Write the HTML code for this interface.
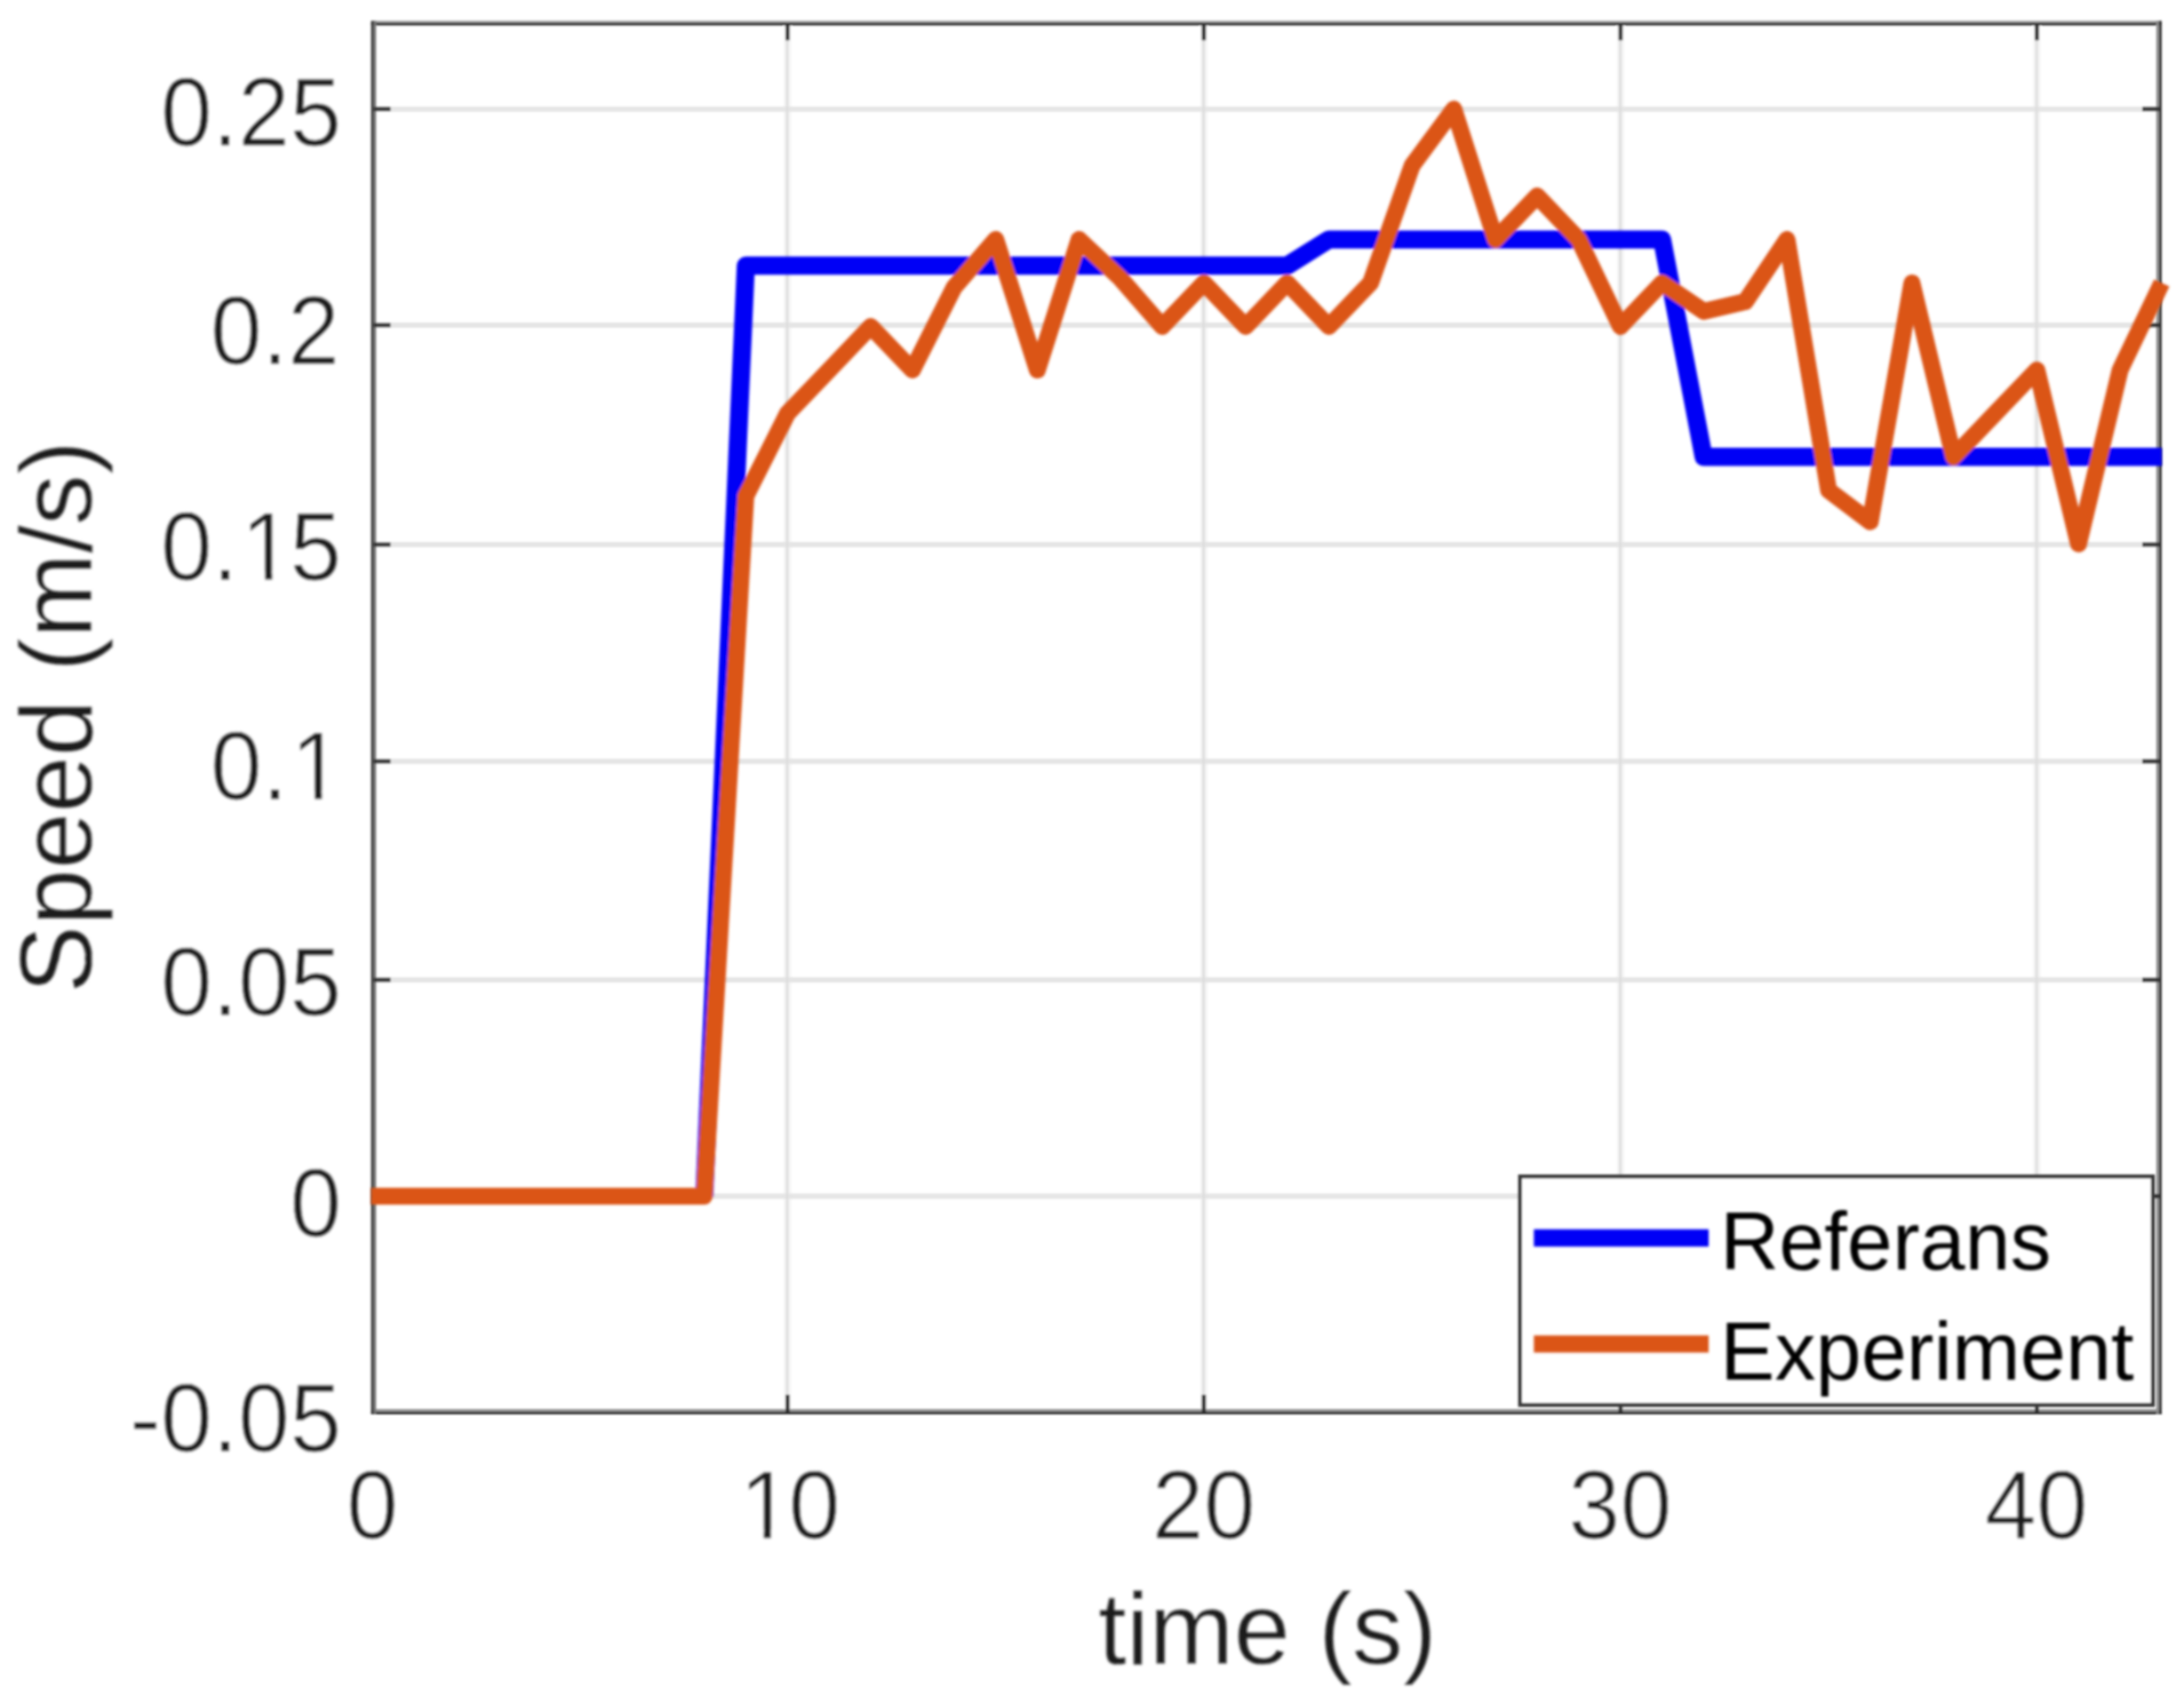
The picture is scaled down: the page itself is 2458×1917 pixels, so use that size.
<!DOCTYPE html>
<html lang="en"><head><meta charset="utf-8"><title>Speed plot</title>
<style>html,body{margin:0;padding:0;background:#fff}body{width:2458px;height:1917px;overflow:hidden}svg{display:block}text{font-family:"Liberation Sans",sans-serif}</style></head><body>
<svg width="2458" height="1917" viewBox="0 0 2458 1917">
<defs><filter id="soft" filterUnits="userSpaceOnUse" x="0" y="0" width="2458" height="1917"><feGaussianBlur stdDeviation="0.8"/></filter><filter id="blur" filterUnits="userSpaceOnUse" x="0" y="0" width="2458" height="1917"><feGaussianBlur stdDeviation="1.5"/></filter></defs>
<rect width="2458" height="1917" fill="#fff"/>
<g filter="url(#soft)">
<g fill="none">
<line x1="886.3" y1="26.3" x2="886.3" y2="1589.0" stroke="#f6f6f6" stroke-width="8.4"/>
<line x1="1354.9" y1="26.3" x2="1354.9" y2="1589.0" stroke="#f6f6f6" stroke-width="8.4"/>
<line x1="1823.9" y1="26.3" x2="1823.9" y2="1589.0" stroke="#f6f6f6" stroke-width="8.4"/>
<line x1="2292.4" y1="26.3" x2="2292.4" y2="1589.0" stroke="#f6f6f6" stroke-width="8.4"/>
<line x1="420.5" y1="122.8" x2="2430.0" y2="122.8" stroke="#e5e5e5" stroke-width="5.8"/>
<line x1="420.5" y1="366.0" x2="2430.0" y2="366.0" stroke="#e5e5e5" stroke-width="5.8"/>
<line x1="420.5" y1="613.0" x2="2430.0" y2="613.0" stroke="#e5e5e5" stroke-width="5.8"/>
<line x1="420.5" y1="857.0" x2="2430.0" y2="857.0" stroke="#e5e5e5" stroke-width="5.8"/>
<line x1="420.5" y1="1103.0" x2="2430.0" y2="1103.0" stroke="#e5e5e5" stroke-width="5.8"/>
<line x1="420.5" y1="1346.5" x2="2430.0" y2="1346.5" stroke="#e5e5e5" stroke-width="5.8"/>
<line x1="886.0" y1="26.3" x2="886.0" y2="1589.0" stroke="#dedede" stroke-width="3"/>
<line x1="1354.6" y1="26.3" x2="1354.6" y2="1589.0" stroke="#dedede" stroke-width="3"/>
<line x1="1823.6" y1="26.3" x2="1823.6" y2="1589.0" stroke="#dedede" stroke-width="3"/>
<line x1="2292.1" y1="26.3" x2="2292.1" y2="1589.0" stroke="#dedede" stroke-width="3"/>
</g>
<line x1="417.8" y1="24.50" x2="2432.8" y2="24.50" stroke="#a8a8a8" stroke-width="2.40"/>
<line x1="417.8" y1="27.00" x2="2432.8" y2="27.00" stroke="#262626" stroke-width="3.00"/>
<line x1="417.8" y1="1587.50" x2="2432.8" y2="1587.50" stroke="#9a9a9a" stroke-width="2.80"/>
<line x1="417.8" y1="1590.40" x2="2432.8" y2="1590.40" stroke="#262626" stroke-width="3.00"/>
<line x1="421.90" y1="23.4" x2="421.90" y2="1591.8" stroke="#767676" stroke-width="2.80"/>
<line x1="419.10" y1="23.4" x2="419.10" y2="1591.8" stroke="#3c3c3c" stroke-width="3.00"/>
<line x1="2428.30" y1="23.4" x2="2428.30" y2="1591.8" stroke="#8c8c8c" stroke-width="3.00"/>
<line x1="2431.40" y1="23.4" x2="2431.40" y2="1591.8" stroke="#303030" stroke-width="2.90"/>
<g stroke="#303030" stroke-width="4.6">
<line x1="420.5" y1="122.8" x2="439.5" y2="122.8"/>
<line x1="2411.0" y1="122.8" x2="2430.0" y2="122.8"/>
<line x1="420.5" y1="366.0" x2="439.5" y2="366.0"/>
<line x1="2411.0" y1="366.0" x2="2430.0" y2="366.0"/>
<line x1="420.5" y1="613.0" x2="439.5" y2="613.0"/>
<line x1="2411.0" y1="613.0" x2="2430.0" y2="613.0"/>
<line x1="420.5" y1="857.0" x2="439.5" y2="857.0"/>
<line x1="2411.0" y1="857.0" x2="2430.0" y2="857.0"/>
<line x1="420.5" y1="1103.0" x2="439.5" y2="1103.0"/>
<line x1="2411.0" y1="1103.0" x2="2430.0" y2="1103.0"/>
<line x1="420.5" y1="1346.5" x2="439.5" y2="1346.5"/>
<line x1="2411.0" y1="1346.5" x2="2430.0" y2="1346.5"/>
<line x1="886.3" y1="1589.0" x2="886.3" y2="1570.0"/>
<line x1="886.3" y1="26.3" x2="886.3" y2="45.3"/>
<line x1="1354.9" y1="1589.0" x2="1354.9" y2="1570.0"/>
<line x1="1354.9" y1="26.3" x2="1354.9" y2="45.3"/>
<line x1="1823.9" y1="1589.0" x2="1823.9" y2="1570.0"/>
<line x1="1823.9" y1="26.3" x2="1823.9" y2="45.3"/>
<line x1="2292.4" y1="1589.0" x2="2292.4" y2="1570.0"/>
<line x1="2292.4" y1="26.3" x2="2292.4" y2="45.3"/>
</g>
</g>
<g filter="url(#blur)">
<polyline points="792.6,1346.5 839.4,299.0 886.3,299.0 933.2,299.0 980.0,299.0 1026.9,299.0 1073.8,299.0 1120.7,299.0 1167.5,299.0 1214.4,299.0 1261.3,299.0 1308.1,299.0 1355.0,299.0 1401.9,299.0 1448.7,299.0 1495.6,269.6 1542.5,269.6 1589.3,269.6 1636.2,269.6 1683.1,269.6 1730.0,269.6 1776.8,269.6 1823.7,269.6 1870.6,269.6 1917.4,514.3 1964.3,514.3 2011.2,514.3 2058.0,514.3 2104.9,514.3 2151.8,514.3 2198.7,514.3 2245.5,514.3 2292.4,514.3 2339.3,514.3 2386.1,514.3 2433.0,514.3" fill="none" stroke="#0303f6" stroke-width="20.4" stroke-linejoin="round"/>
<polyline points="417.6,1346.5 464.5,1346.5 511.3,1346.5 558.2,1346.5 605.1,1346.5 652.0,1346.5 698.8,1346.5 745.7,1346.5 792.6,1346.5 839.4,558.4 886.3,465.4 933.2,416.5 980.0,367.5 1026.9,416.5 1073.8,323.4 1120.7,269.6 1167.5,416.5 1214.4,269.6 1261.3,313.7 1308.1,367.5 1355.0,318.5 1401.9,367.5 1448.7,318.5 1495.6,367.5 1542.5,318.5 1589.3,186.4 1636.2,122.8 1683.1,269.6 1730.0,220.6 1776.8,269.6 1823.7,367.5 1870.6,318.5 1917.4,350.4 1964.3,339.6 2011.2,269.6 2058.0,552.0 2104.9,587.3 2151.8,318.5 2198.7,514.3 2245.5,465.4 2292.4,416.5 2339.3,612.2 2386.1,416.5 2433.0,318.5" fill="none" stroke="#db5418" stroke-width="19" stroke-linejoin="round"/>
</g>
<g filter="url(#blur)">
<g font-size="109.4" fill="#1e1e1e" stroke="#fff" stroke-width="1.0">
<text transform="translate(180.84,163.9) scale(0.956,1)">0.25</text>
<text transform="translate(236.81,410.4) scale(0.956,1)">0.2</text>
<text transform="translate(180.84,653.4) scale(0.956,1)">0.<tspan dx="3.45">1</tspan><tspan dx="-3.45">5</tspan></text>
<text transform="translate(236.81,900.4) scale(0.956,1)">0.<tspan dx="3.45">1</tspan></text>
<text transform="translate(180.84,1143.4) scale(0.956,1)">0.05</text>
<text transform="translate(326.23,1391.5) scale(0.956,1)">0</text>
<text transform="translate(146.02,1634.0) scale(0.956,1)">-0.05</text>
<text transform="translate(390.12,1732.0) scale(0.956,1)">0</text>
<text transform="translate(829.43,1732.0) scale(0.956,1)"><tspan dx="3.45">1</tspan><tspan dx="-3.45">0</tspan></text>
<text transform="translate(1296.53,1732.0) scale(0.956,1)">20</text>
<text transform="translate(1765.23,1732.0) scale(0.956,1)">30</text>
<text transform="translate(2233.63,1732.0) scale(0.956,1)">40</text>
</g>
<g fill="#fff"><rect x="273.4" y="643.7" width="24.7" height="11.7"/><rect x="306.5" y="643.7" width="23.6" height="11.7"/><rect x="329.3" y="890.7" width="24.7" height="11.7"/><rect x="362.4" y="890.7" width="23.6" height="11.7"/><rect x="834.7" y="1722.3" width="24.7" height="11.7"/><rect x="867.8" y="1722.3" width="23.6" height="11.7"/></g>
<text x="1426.5" y="1873.2" font-size="114.8" fill="#1e1e1e" stroke="#fff" stroke-width="0.4" text-anchor="middle" textLength="381" lengthAdjust="spacingAndGlyphs">time (s)</text>
<text transform="translate(102.9,807) rotate(-90)" font-size="114.8" fill="#1e1e1e" stroke="#fff" stroke-width="0.4" text-anchor="middle" textLength="622" lengthAdjust="spacingAndGlyphs">Speed (m/s)</text>
</g>
<rect x="1710.8" y="1324.3" width="712.2" height="257.2" fill="#fff" stroke="#3a3a3a" stroke-width="4.4" filter="url(#soft)"/>
<g filter="url(#blur)">
<line x1="1726.3" y1="1393.5" x2="1923" y2="1393.5" stroke="#0303f6" stroke-width="19.6"/>
<line x1="1726.3" y1="1512.9" x2="1923" y2="1512.9" stroke="#db5418" stroke-width="19.2"/>
<g font-size="93.4" fill="#000"><text transform="translate(1936,1429) scale(0.983,1)">Referans</text><text transform="translate(1936,1552.8) scale(0.986,1)">Experiment</text></g>
</g>
</svg></body></html>
